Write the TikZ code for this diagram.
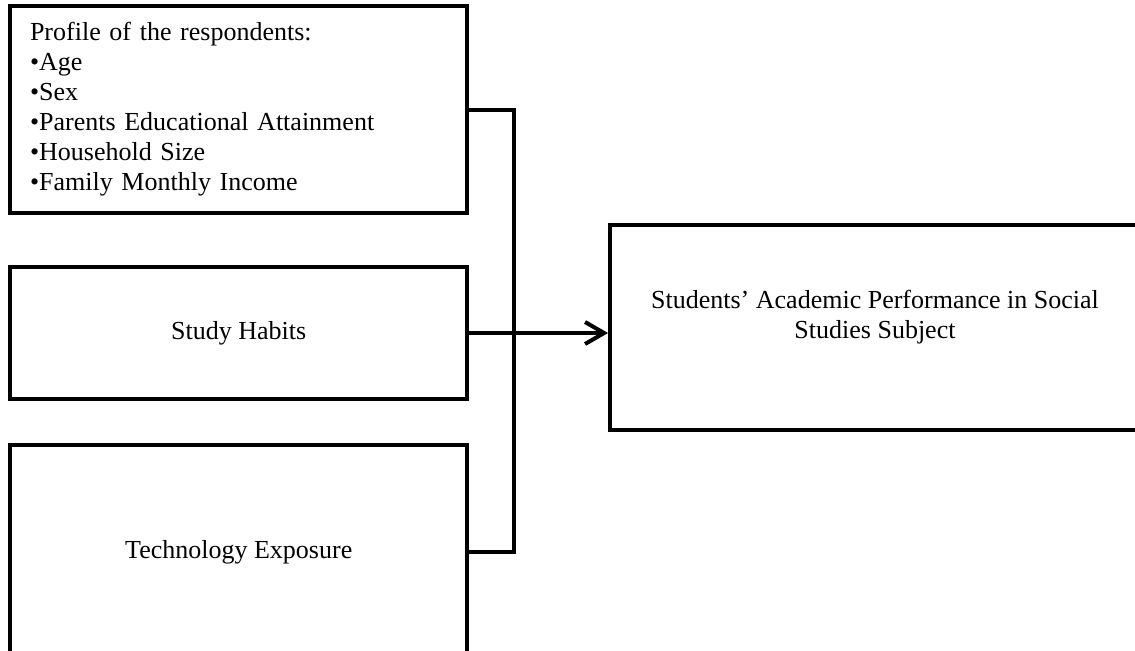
\documentclass[tikz,border=0pt]{standalone}
\usepackage{fontspec}
\setmainfont{Liberation Serif}
\usetikzlibrary{arrows.meta,positioning}

\begin{document}
\begin{tikzpicture}[x=0.02cm, y=-0.02cm,
    box/.style={draw, line width=0.08cm, inner sep=0pt, font=\fontsize{14.8}{17.1}\selectfont},
    link/.style={line width=0.08cm}]
    \def\colx{238.75}
    \def\wide{9.15cm}
    \useasboundingbox (0,0) rectangle (1135,650);
    \clip (0,0) rectangle (1135,650);
    \node(prof) [box, minimum width=\wide, minimum height=4.14cm, align=left, text width=8.35cm] at (\colx,109.5) {Profile of the respondents:\\•Age\\•Sex\\•Parents Educational Attainment\\•Household Size\\•Family Monthly Income};
    \node(habits) [box, minimum width=\wide, minimum height=2.64cm] at (\colx,333) {Study Habits};
    \node(tech) [box, minimum width=\wide, minimum height=4.28cm] at (\colx,552) {Technology Exposure};
    \node(perf) [box, minimum width=10.6cm, minimum height=4.1cm] at (875,327.5) {};
    \node(perftext) [align=center, font=\fontsize{14.8}{17.1}\selectfont, yshift=0.21cm] at (perf.center) {Students’ Academic Performance in Social\\Studies Subject};
    \coordinate (bendx) at (514,0);
    % bracket joining the three boxes
    \draw[link] (prof.east) -- (prof.east -| bendx) -- (tech.east -| bendx) -- (tech.east);
    \draw[link, -{Straight Barb[length=0.38cm, width=0.44cm]}] (habits.east) -- (habits.east -| perf.west);
\end{tikzpicture}
\end{document}
